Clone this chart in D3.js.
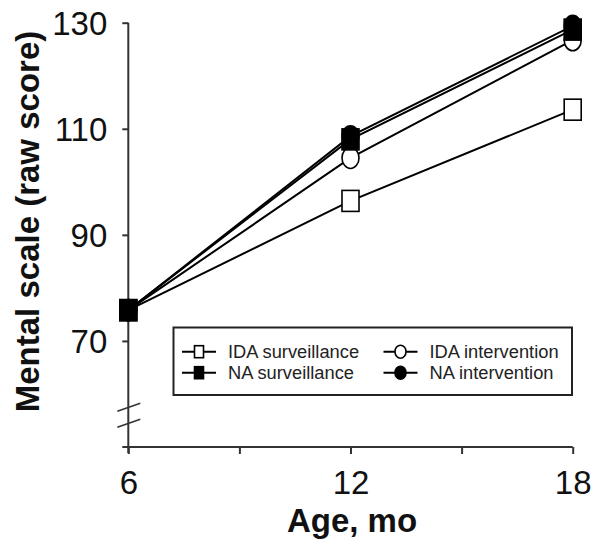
<!DOCTYPE html>
<html><head><meta charset="utf-8">
<script src="https://cdn.jsdelivr.net/npm/d3@7"></script>
<style>body{margin:0;background:#fff}svg{display:block}</style>
</head><body>
<script>
const ages = [6, 12, 18];
const seriesNames = ["IDA surveillance", "IDA intervention", "NA surveillance", "NA intervention"];
const idaSurveillance = [75.8, 96.4, 113.6];
const idaIntervention = [75.8, 104.5, 126.7];
const naSurveillance = [75.8, 108.0, 128.7];
const naIntervention = [75.8, 108.6, 129.4];
const xTicks = [6, 9, 12, 15, 18];
const xTickLabels = ["6", "", "12", "", "18"];
const yTicks = [70, 90, 110, 130];

const series = [
  {name: seriesNames[0], values: idaSurveillance, shape: "square", fill: "#fff"},
  {name: seriesNames[1], values: idaIntervention, shape: "circle", fill: "#fff"},
  {name: seriesNames[2], values: naSurveillance, shape: "square", fill: "#000"},
  {name: seriesNames[3], values: naIntervention, shape: "circle", fill: "#000"}
];

const W = 600, H = 553;
const svg = d3.select("body").append("svg").attr("width", W).attr("height", H);
const font = "'Liberation Sans', Arial, sans-serif";

const x = d3.scaleLinear().domain([6, 18]).range([128.3, 572.7]);
const y = d3.scaleLinear().domain([50, 130]).range([447, 22.7]);

const axisColor = "#333";

// X axis
const xAxis = svg.append("g").attr("transform", `translate(0,${y(50)})`)
  .call(d3.axisBottom(x).tickValues(xTicks).tickSize(7).tickSizeOuter(0)
    .tickFormat((d, i) => xTickLabels[i]));
xAxis.select(".domain").attr("d", `M${x(6) - 6},0H${x(18)}`).attr("stroke", axisColor).attr("stroke-width", 2);
xAxis.selectAll(".tick line").attr("stroke", axisColor).attr("stroke-width", 2);
xAxis.selectAll(".tick text").attr("font-family", font).attr("font-size", 33)
  .attr("fill", "#111").attr("y", 47).attr("dy", 0);

// Y axis
const yAxis = svg.append("g").attr("transform", `translate(${x(6)},0)`)
  .call(d3.axisLeft(y).tickValues(yTicks).tickSize(6).tickSizeOuter(0));
yAxis.select(".domain").attr("d", `M0,${y(130)}V${y(50) + 6}`).attr("stroke", axisColor).attr("stroke-width", 2);
yAxis.selectAll(".tick line").attr("stroke", axisColor).attr("stroke-width", 2);
yAxis.selectAll(".tick text").attr("font-family", font).attr("font-size", 33)
  .attr("fill", "#111").attr("x", -21).attr("dy", "0.35em");

// Axis break marks
[57.5, 54.5].forEach(v => {
  svg.append("line")
    .attr("x1", x(6) - 11).attr("y1", y(v) + 4)
    .attr("x2", x(6) + 12).attr("y2", y(v) - 4)
    .attr("stroke", axisColor).attr("stroke-width", 1.6);
});

// Titles
svg.append("text").attr("x", 352).attr("y", 531.5).attr("text-anchor", "middle")
  .attr("font-family", font).attr("font-weight", "bold").attr("font-size", 33)
  .attr("fill", "#111").text("Age, mo");
svg.append("text").attr("transform", "translate(39,221.5) rotate(-90)").attr("text-anchor", "middle")
  .attr("font-family", font).attr("font-weight", "bold").attr("font-size", 33)
  .attr("fill", "#111").text("Mental scale (raw score)");

// Lines
const line = d3.line().x((d, i) => x(ages[i])).y(d => y(d));
series.forEach(s => {
  svg.append("path").attr("d", line(s.values)).attr("fill", "none")
    .attr("stroke", "#000").attr("stroke-width", 2);
});

function marker(g, shape, cx, cy, w, h, fill) {
  if (shape === "square") {
    g.append("rect").attr("x", cx - w / 2).attr("y", cy - h / 2).attr("width", w).attr("height", h)
      .attr("fill", fill).attr("stroke", "#000").attr("stroke-width", 1.6);
  } else {
    g.append("ellipse").attr("cx", cx).attr("cy", cy).attr("rx", w / 2).attr("ry", h / 2)
      .attr("fill", fill).attr("stroke", "#000").attr("stroke-width", 1.6);
  }
}

// Markers
const mg = svg.append("g");
series.forEach(s => {
  s.values.forEach((v, i) => marker(mg, s.shape, x(ages[i]), y(v), 17, 21, s.fill));
});

// Legend
const lg = svg.append("g");
lg.append("rect").attr("x", 173.5).attr("y", 327.5).attr("width", 398.5).attr("height", 67.5)
  .attr("fill", "#fff").attr("stroke", "#222").attr("stroke-width", 2);
const legendPos = [
  {lx: 182, rowY: 351.7}, {lx: 383.5, rowY: 351.7},
  {lx: 182, rowY: 372.7}, {lx: 383.5, rowY: 372.7}
];
series.forEach((s, i) => {
  const p = legendPos[i];
  lg.append("line").attr("x1", p.lx).attr("x2", p.lx + 34).attr("y1", p.rowY).attr("y2", p.rowY)
    .attr("stroke", "#000").attr("stroke-width", 2);
  const w = s.shape === "square" ? 9 : 11;
  const h = s.shape === "square" ? 12 : 13;
  marker(lg, s.shape, p.lx + 17, p.rowY, w, h, s.fill);
  lg.append("text").attr("x", p.lx + 46).attr("y", p.rowY).attr("dy", "0.36em")
    .attr("font-family", font).attr("font-size", 18.3).attr("fill", "#222").text(s.name);
});
</script>
</body></html>
